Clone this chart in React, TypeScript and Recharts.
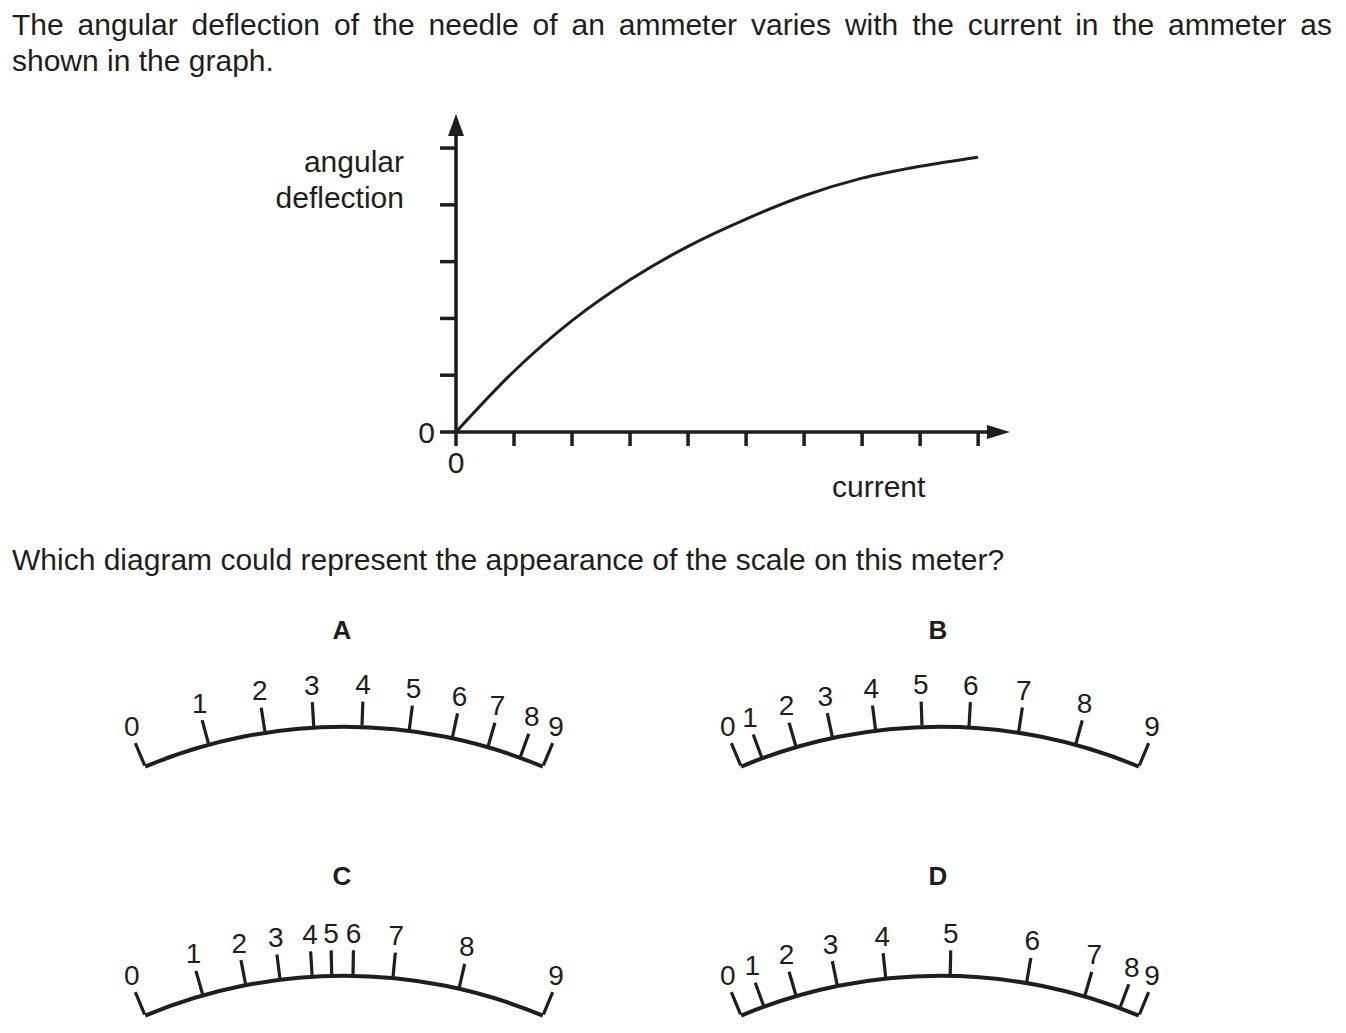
import React from 'react';
import {
  LineChart,
  Line,
  XAxis,
  YAxis,
  RadialBarChart,
  RadialBar,
  PolarAngleAxis,
  PolarRadiusAxis,
} from 'recharts';

// ---------- data ----------
const currentTicks = [0, 1, 2, 3, 4, 5, 6, 7, 8, 9];
const deflectionValues = [0, 1.07, 1.96, 2.68, 3.27, 3.75, 4.16, 4.47, 4.68, 4.84];
const deflectionTicks = [0, 1, 2, 3, 4, 5];

const scaleLabels = ['0', '1', '2', '3', '4', '5', '6', '7', '8', '9'];
// fraction of full-scale deflection at which each label sits
const scaleA = [0, 0.165, 0.306, 0.426, 0.544, 0.66, 0.767, 0.857, 0.94, 1];
const scaleB = [0, 0.055, 0.143, 0.235, 0.342, 0.456, 0.571, 0.693, 0.836, 1];
const scaleC = [0, 0.15, 0.258, 0.343, 0.422, 0.47, 0.522, 0.62, 0.784, 1];
const scaleD = [0, 0.06, 0.143, 0.247, 0.367, 0.525, 0.713, 0.859, 0.95, 1];

const INK = '#1e1e1e';
const FONT = '"Liberation Sans", Arial, Helvetica, sans-serif';

const graphData = currentTicks.map((c, i) => ({ current: c, deflection: deflectionValues[i] }));

// ---------- meter scale ----------
const SW = 490;
const SH = 140;
const SCX = 244;
const SR = 515;
const HALF = 22.7;

function MeterScale({ positions, left, top, cy }: { positions: number[]; left: number; top: number; cy: number }) {
  const data = [{ name: 'scale', value: 1 }];
  const renderTick = (props: any) => {
    const { x, y, payload, index } = props;
    let i = positions.indexOf(payload?.value);
    if (i < 0) i = index;
    const dx = x - SCX;
    const dy = y - cy;
    const len = Math.hypot(dx, dy) || 1;
    const lx = x + (dx / len) * 9;
    const ly = y - 17;
    return (
      <text
        key={'t' + i}
        x={lx}
        y={ly}
        textAnchor="middle"
        dominantBaseline="central"
        fontSize={28}
        fill={INK}
        fontFamily={FONT}
      >
        {scaleLabels[i]}
      </text>
    );
  };
  return (
    <div style={{ position: 'absolute', left, top }}>
      <RadialBarChart
        width={SW}
        height={SH}
        data={data}
        cx={SCX}
        cy={cy}
        innerRadius={SR - 1.75}
        outerRadius={SR + 1.75}
        startAngle={90 + HALF}
        endAngle={90 - HALF}
        margin={{ top: 0, right: 0, bottom: 0, left: 0 }}
        barCategoryGap={0}
      >
        <PolarAngleAxis
          type="number"
          domain={[0, 1]}
          ticks={positions}
          tick={renderTick}
          tickSize={24}
          tickLine={{ stroke: INK, strokeWidth: 3.2 }}
          axisLine={false}
        />
        <PolarRadiusAxis type="category" dataKey="name" tick={false} axisLine={false} />
        <RadialBar dataKey="value" fill={INK} isAnimationActive={false} />
      </RadialBarChart>
    </div>
  );
}

const textStyle: React.CSSProperties = {
  position: 'absolute',
  fontFamily: FONT,
  fontSize: 30,
  lineHeight: '36px',
  color: INK,
  whiteSpace: 'nowrap',
};

export default function App() {
  return (
    <div
      style={{
        position: 'absolute',
        left: 0,
        top: 0,
        width: 1346,
        height: 1033,
        background: '#fff',
        overflow: 'hidden',
      }}
    >
      <svg width={0} height={0} style={{ position: 'absolute' }}>
        <defs>
          <marker id="arrowX" markerUnits="userSpaceOnUse" markerWidth={24} markerHeight={14} refX={1} refY={7} orient="auto">
            <path d="M0,0 L23,7 L0,14 Z" fill={INK} />
          </marker>
          <marker id="arrowY" markerUnits="userSpaceOnUse" markerWidth={23} markerHeight={16} refX={1} refY={8} orient="auto-start-reverse">
            <path d="M0,0 L22,8 L0,16 Z" fill={INK} />
          </marker>
        </defs>
      </svg>

      <div style={{ ...textStyle, left: 12, top: 7, width: 1320, textAlign: 'justify', textAlignLast: 'justify' as any }}>
        The angular deflection of the needle of an ammeter varies with the current in the ammeter as
      </div>
      <div style={{ ...textStyle, left: 12, top: 43 }}>shown in the graph.</div>

      <div style={{ ...textStyle, left: 204, top: 144, width: 200, textAlign: 'right' }}>
        angular
        <br />
        deflection
      </div>
      <div style={{ ...textStyle, left: 832, top: 469 }}>current</div>

      <div style={{ position: 'absolute', left: 380, top: 90 }}>
        <LineChart width={660} height={400} data={graphData} margin={{ top: 45, right: 52, bottom: 57, left: 75 }}>
          <XAxis
            dataKey="current"
            type="number"
            domain={[0, 9.17]}
            ticks={currentTicks}
            interval={0}
            allowDataOverflow
            tickFormatter={(v: number) => (v === 0 ? '0' : '')}
            height={1}
            tickSize={14}
            tickMargin={6}
            axisLine={{ stroke: INK, strokeWidth: 3.5, markerEnd: 'url(#arrowX)' } as any}
            tickLine={{ stroke: INK, strokeWidth: 3.5 }}
            tick={{ fill: INK, fontSize: 30, fontFamily: FONT }}
          />
          <YAxis
            type="number"
            domain={[0, 5.23]}
            ticks={deflectionTicks}
            interval={0}
            allowDataOverflow
            tickFormatter={(v: number) => (v === 0 ? '0' : '')}
            width={1}
            tickSize={16}
            tickMargin={5}
            axisLine={{ stroke: INK, strokeWidth: 3.5, markerStart: 'url(#arrowY)' } as any}
            tickLine={{ stroke: INK, strokeWidth: 3.5 }}
            tick={{ fill: INK, fontSize: 30, fontFamily: FONT }}
          />
          <Line
            dataKey="deflection"
            type="monotone"
            stroke={INK}
            strokeWidth={3}
            dot={false}
            isAnimationActive={false}
          />
        </LineChart>
      </div>

      <div style={{ ...textStyle, left: 12, top: 542 }}>
        Which diagram could represent the appearance of the scale on this meter?
      </div>

      <div style={{ ...textStyle, left: 292, top: 612, width: 100, textAlign: 'center', fontWeight: 'bold', fontSize: 26 }}>A</div>
      <div style={{ ...textStyle, left: 888, top: 612, width: 100, textAlign: 'center', fontWeight: 'bold', fontSize: 26 }}>B</div>
      <div style={{ ...textStyle, left: 292, top: 858, width: 100, textAlign: 'center', fontWeight: 'bold', fontSize: 26 }}>C</div>
      <div style={{ ...textStyle, left: 888, top: 858, width: 100, textAlign: 'center', fontWeight: 'bold', fontSize: 26 }}>D</div>

      <MeterScale positions={scaleA} left={100} top={650} cy={592} />
      <MeterScale positions={scaleB} left={696} top={650} cy={592} />
      <MeterScale positions={scaleC} left={100} top={900} cy={591} />
      <MeterScale positions={scaleD} left={696} top={900} cy={591} />
    </div>
  );
}
